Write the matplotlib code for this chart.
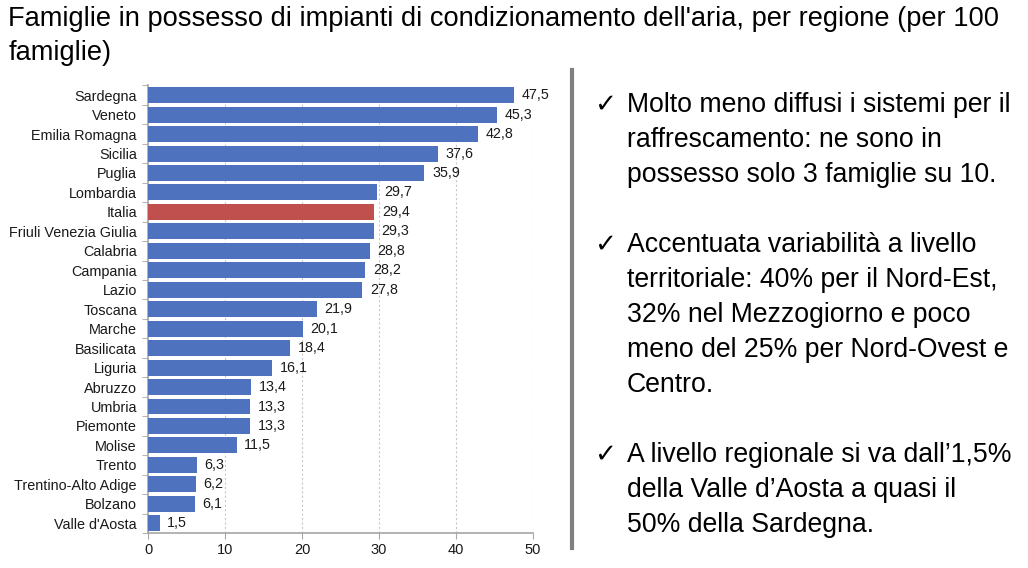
import matplotlib
matplotlib.use("Agg")
import matplotlib.pyplot as plt
from matplotlib.lines import Line2D

plt.rcParams['font.family'] = ['Liberation Sans', 'DejaVu Sans']

# Dati
regioni = ["Sardegna", "Veneto", "Emilia Romagna", "Sicilia", "Puglia", "Lombardia",
           "Italia", "Friuli Venezia Giulia", "Calabria", "Campania", "Lazio", "Toscana",
           "Marche", "Basilicata", "Liguria", "Abruzzo", "Umbria", "Piemonte", "Molise",
           "Trento", "Trentino-Alto Adige", "Bolzano", "Valle d'Aosta"]
valori = [47.5, 45.3, 42.8, 37.6, 35.9, 29.7, 29.4, 29.3, 28.8, 28.2, 27.8, 21.9,
          20.1, 18.4, 16.1, 13.4, 13.3, 13.3, 11.5, 6.3, 6.2, 6.1, 1.5]
x_ticks = [0, 10, 20, 30, 40, 50]

blu = "#4F72BE"
rosso = "#C0504D"
grigio = "#A6A6A6"

fig = plt.figure(figsize=(10.28, 5.68), dpi=100)
ax = fig.add_axes([0.144, 0.0616, 0.3745, 0.788])

pos = list(range(len(regioni)))
colori = [rosso if r == "Italia" else blu for r in regioni]
ax.barh(pos, valori, height=0.82, color=colori, zorder=3)
for p, v in zip(pos, valori):
    ax.text(v + 1.0, p, f"{v:.1f}".replace(".", ","), va="center", ha="left",
            fontsize=10.3, color="#1a1a1a")

ax.set_xlim(0, 50)
ax.set_ylim(len(regioni) - 0.5, -0.5)
ax.set_xticks(x_ticks)
ax.tick_params(axis="x", labelsize=10.5, colors="#1a1a1a", length=4, color=grigio)
ax.set_yticks(pos)
ax.set_yticklabels(regioni, fontsize=10.4, color="#1a1a1a")
ax.set_yticks([p + 0.5 for p in [-1] + pos], minor=True)
ax.tick_params(axis="y", which="major", length=0, pad=8)
ax.tick_params(axis="y", which="minor", length=4, color=grigio)
ax.xaxis.grid(True, linestyle=(0, (2, 2)), color="#C8C8C8", linewidth=0.8, zorder=0)
for s in ["top", "right"]:
    ax.spines[s].set_visible(False)
for s in ["left", "bottom"]:
    ax.spines[s].set_color(grigio)
    ax.spines[s].set_linewidth(1.2)

fig.text(0.008, 0.99, "Famiglie in possesso di impianti di condizionamento dell'aria, per regione (per 100\nfamiglie)",
         fontsize=19.6, va="top", ha="left", linespacing=1.4)

# Linea di separazione
fig.add_artist(Line2D([0.5565, 0.5565], [1 - 70 / 568, 1 - 548 / 568],
                      transform=fig.transFigure, color="#808080", linewidth=3))

# Testo a destra
punti = [
    (105, ["Molto meno diffusi i sistemi per il", "raffrescamento: ne sono in",
           "possesso solo 3 famiglie su 10."]),
    (245, ["Accentuata variabilità a livello", "territoriale: 40% per il Nord-Est,",
           "32% nel Mezzogiorno e poco", "meno del 25% per Nord-Ovest e", "Centro."]),
    (455, ["A livello regionale si va dall\u20191,5%", "della Valle d\u2019Aosta a quasi il",
           "50% della Sardegna."]),
]
for y0, righe in punti:
    fig.text(594 / 1028, 1 - y0 / 568, "\u2713", fontsize=19, va="center", ha="left",
             family=['DejaVu Sans'])
    for i, r in enumerate(righe):
        fig.text(627 / 1028, 1 - (y0 + 35 * i) / 568, r, fontsize=19.2,
                 va="center", ha="left")

fig.savefig("out.png", dpi=100)
plt.close()
